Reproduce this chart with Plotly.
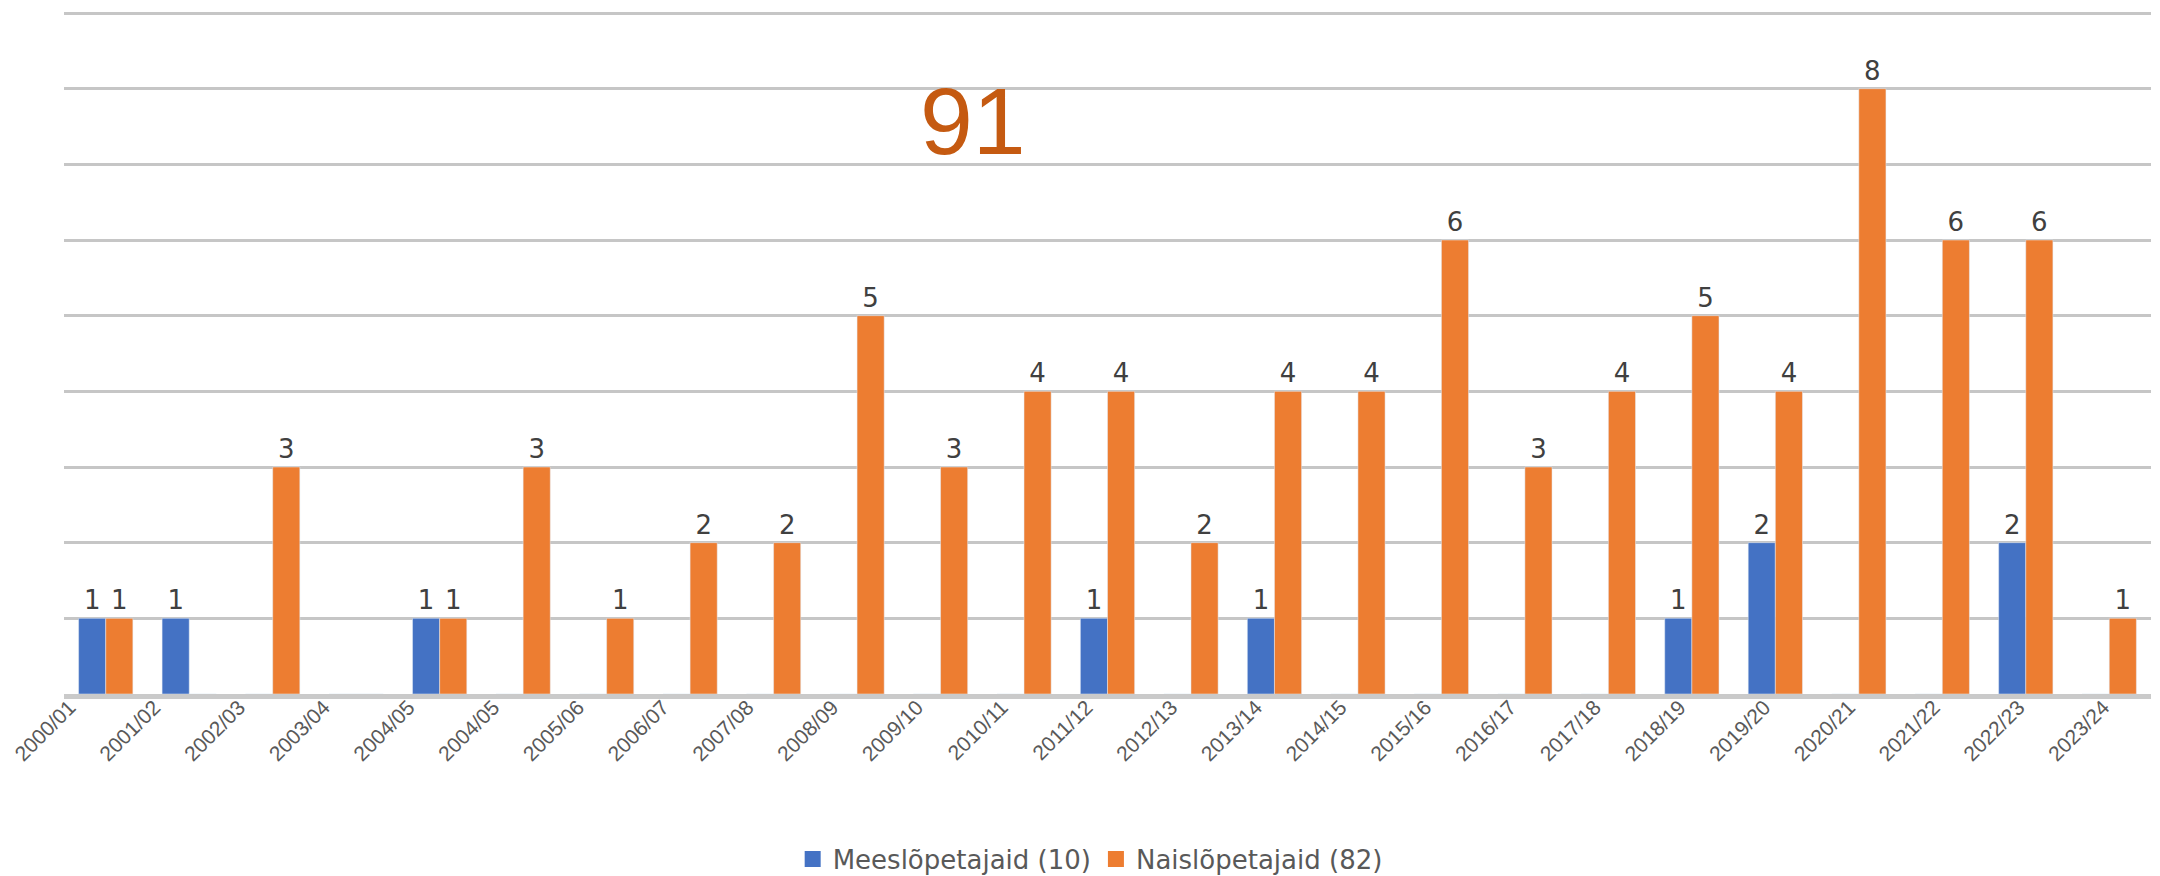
import plotly.graph_objects as go

categories = ["2000/01", "2001/02", "2002/03", "2003/04", "2004/05", "2004/05", "2005/06",
              "2006/07", "2007/08", "2008/09", "2009/10", "2010/11", "2011/12", "2012/13",
              "2013/14", "2014/15", "2015/16", "2016/17", "2017/18", "2018/19", "2019/20",
              "2020/21", "2021/22", "2022/23", "2023/24"]
men = [1, 1, 0, 0, 1, 0, 0, 0, 0, 0, 0, 0, 1, 0, 1, 0, 0, 0, 0, 1, 2, 0, 0, 2, 0]
women = [1, 0, 3, 0, 1, 3, 1, 2, 2, 5, 3, 4, 4, 2, 4, 4, 6, 3, 4, 5, 4, 8, 6, 6, 1]
series_names = ["Meeslõpetajaid (10)", "Naislõpetajaid (82)"]
series_colors = ["#4472C4", "#ED7D31"]
total_label = "91"

FONT = "DejaVu Sans, Liberation Sans, sans-serif"
TICKFONT = "Liberation Sans, Arial, sans-serif"
x = list(range(len(categories)))
n = len(categories)

TOP, BOTTOM = 2, 186
PLOT_H = 876 - TOP - BOTTOM
BASE_Y = 876 - BOTTOM


def labels(vals):
    return [str(v) if v else None for v in vals]


fig = go.Figure()
for vals, name, col in zip([men, women], series_names, series_colors):
    fig.add_trace(go.Bar(x=x, y=vals, name=name, marker_color=col, showlegend=False,
                         text=labels(vals), textposition="outside", constraintext="none",
                         textfont=dict(size=26, color="#404040", family=FONT),
                         cliponaxis=False))
# legend entries (square swatches)
for name, col in zip(series_names, series_colors):
    fig.add_trace(go.Scatter(x=[None], y=[None], mode="markers", name=name,
                             marker=dict(symbol="square", size=18, color=col)))
# carrier trace for the tick-label axis
fig.add_trace(go.Scatter(x=[None], y=[None], xaxis="x2", showlegend=False,
                         hoverinfo="skip"))

spread = 0.185  # category labels are spaced slightly wider than the bars

fig.update_layout(
    width=2160, height=876,
    margin=dict(l=48, r=17, t=TOP, b=BOTTOM),
    paper_bgcolor="white", plot_bgcolor="white",
    barmode="group", bargap=0.35, bargroupgap=0,
    font=dict(family=FONT, color="#595959"),
    legend=dict(orientation="h", x=0.4917, xanchor="center",
                y=(BASE_Y - 856) / PLOT_H, yanchor="middle",
                font=dict(size=26, color="#595959"), itemwidth=30,
                bgcolor="rgba(0,0,0,0)"),
    xaxis=dict(range=[-0.5, n - 0.5], showgrid=False, showticklabels=False,
               showline=True, linecolor="#CACACA", linewidth=5,
               ticks="", zeroline=False),
    xaxis2=dict(overlaying="x", anchor="y", side="bottom",
                range=[-0.5 + spread, n - 0.5 - spread],
                tickmode="array", tickvals=x, ticktext=categories, tickangle=-45,
                showgrid=False, showline=False, zeroline=False, ticks="",
                tickfont=dict(size=21, color="#595959", family=TICKFONT),
                ticklabelshift=-21, ticklabelstandoff=-4, ticklabeloverflow="allow"),
    yaxis=dict(range=[0, 9.04], tickmode="array", tickvals=list(range(1, 10)),
               showticklabels=False, showgrid=True,
               gridcolor="#C6C6C6", gridwidth=3, zeroline=False, showline=False),
    annotations=[dict(text=total_label, xref="paper", yref="paper",
                      x=(960 - 48) / 2095, y=(BASE_Y - 114) / PLOT_H,
                      showarrow=False, xanchor="center", yanchor="middle",
                      font=dict(size=95, color="#C55A11",
                                family="Liberation Sans, Arial, sans-serif"))],
)

fig.write_html("out.html")
